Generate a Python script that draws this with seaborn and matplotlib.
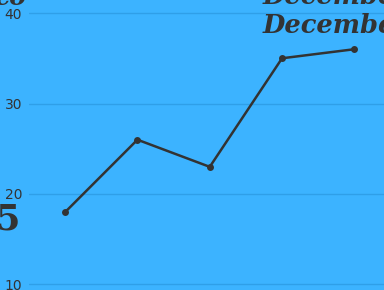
import pandas as pd
import seaborn as sns
import matplotlib.pyplot as plt

months = ["Aug", "Sep", "Oct", "Nov", "Dec"]
values = [18, 26, 23, 35, 36]
y_ticks = [10, 20, 30, 40]

df = pd.DataFrame({"month": range(len(months)), "value": values})

bg = "#3cb3ff"
sns.set_style("white")
fig = plt.figure(figsize=(3.84, 2.9), dpi=100, facecolor=bg)
ax = fig.add_axes([29 / 384, 0, 361.5 / 384, 1])
ax.set_facecolor(bg)

sns.lineplot(data=df, x="month", y="value", ax=ax, color="#333333",
             linewidth=1.8, marker="o", markersize=5, markeredgewidth=0)

ax.set_xlim(-0.5, 4.5)
ax.set_ylim(9.39, 41.44)
ax.set_yticks(y_ticks)
ax.set_xticks([])
ax.yaxis.grid(True, color="#2f9fe8", linewidth=1)
ax.tick_params(axis="y", length=0, pad=5, labelsize=10, labelcolor="#333333")
ax.set_xlabel("")
ax.set_ylabel("")
for s in ax.spines.values():
    s.set_visible(False)

# clipped annotation text from the surrounding layout
serif = dict(family="DejaVu Serif", weight="bold", style="italic", color="#333333")
fig.text(263 / 384, 1 - 33 / 290, "December", fontsize=18.5, **serif)
fig.text(263 / 384, 1 - 4 / 290, "December", fontsize=18.5, **serif)
fig.text(26 / 384, 1 - 5 / 290, "co", fontsize=18, ha="right", **serif)
fig.text(21 / 384, 1 - 230 / 290, "15", fontsize=25, ha="right",
         family="DejaVu Serif", weight="bold", color="#333333")

fig.savefig("out.png", dpi=100, facecolor=bg)
